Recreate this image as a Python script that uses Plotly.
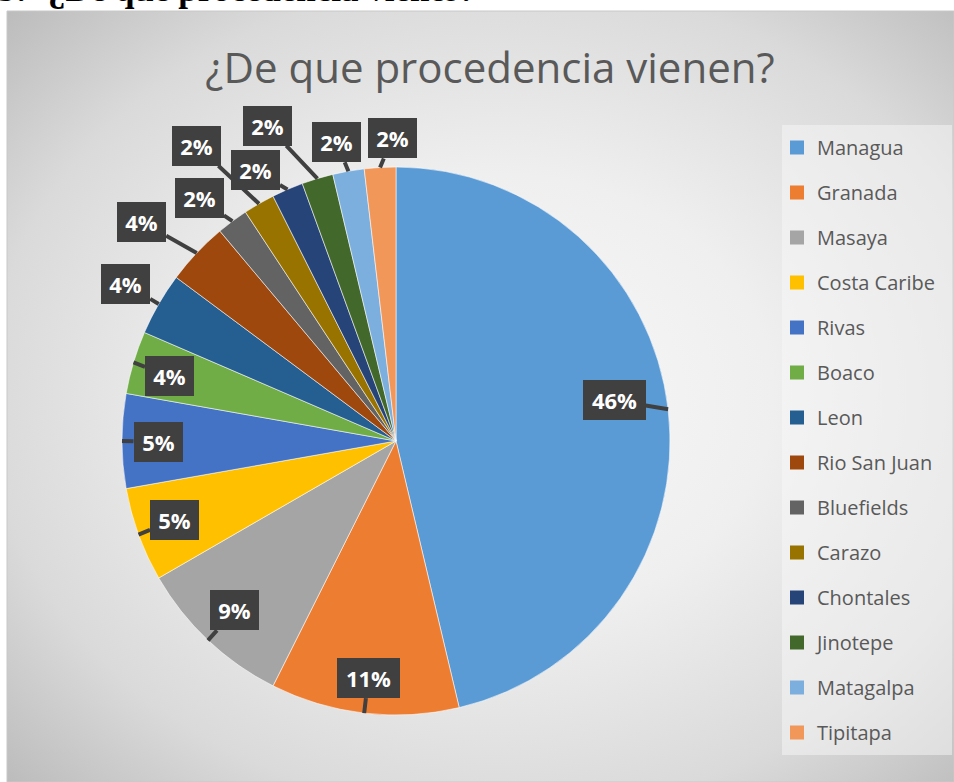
import math
import base64
import plotly.graph_objects as go

# ---------------- data ----------------
categories = ["Managua", "Granada", "Masaya", "Costa Caribe", "Rivas", "Boaco",
              "Leon", "Rio San Juan", "Bluefields", "Carazo", "Chontales",
              "Jinotepe", "Matagalpa", "Tipitapa"]
counts = [25, 6, 5, 3, 3, 2, 2, 2, 1, 1, 1, 1, 1, 1]
pct_labels = ["46%", "11%", "9%", "5%", "5%", "4%", "4%", "4%",
              "2%", "2%", "2%", "2%", "2%", "2%"]
colors = ["#5B9BD5", "#ED7D31", "#A5A5A5", "#FFC000", "#4472C4", "#70AD47",
          "#255E91", "#9E480E", "#636363", "#997300", "#264478", "#43682B",
          "#7CAFDD", "#F1975A"]

# label box offsets (px) from the slice edge point
label_offsets = [(-54, -9), (4, -35), (27, -30), (36, -15), (36, 1), (36, 14),
                 (-33, -20), (-55, -31), (-33, -23), (-62, -58), (-32, -19),
                 (-50, -53), (-12, -29), (12, -29)]

W, H = 954, 782
CX, CY, R = 396, 441, 274          # pie centre / radius in px

fig = go.Figure()

fig.add_trace(go.Pie(
    labels=categories, values=counts, sort=False, direction="clockwise",
    rotation=0, textinfo="none", showlegend=False,
    marker=dict(colors=colors, line=dict(color="rgba(255,255,255,0.55)", width=1)),
    domain=dict(x=[(CX - R) / W, (CX + R) / W], y=[1 - (CY + R) / H, 1 - (CY - R) / H]),
    hovertemplate="%{label}: %{percent}<extra></extra>",
))

# legend entries
for cat, col in zip(categories, colors):
    fig.add_trace(go.Scatter(
        x=[None], y=[None], mode="markers", name=cat, legendgroup=cat,
        marker=dict(symbol="square", size=14, color=col), showlegend=True,
    ))

# data label callouts
total = sum(counts)
cum = 0
annotations = []
for v, txt, (dx, dy) in zip(counts, pct_labels, label_offsets):
    mid = (cum + v / 2) / total
    cum += v
    th = 2 * math.pi * mid
    px = CX + R * math.sin(th)
    py = CY - R * math.cos(th)
    annotations.append(dict(
        x=px / W, y=1 - py / H, xref="paper", yref="paper",
        text="<b>%s</b>" % txt, showarrow=True, arrowhead=0, arrowwidth=4,
        arrowcolor="#404040", ax=dx, ay=dy, standoff=0,
        width=37 if len(txt) == 2 else 51, height=28,
        font=dict(family="Open Sans", size=22, color="white"),
        bgcolor="#404040", bordercolor="#404040", borderwidth=0, borderpad=6,
    ))

# cut-off text on top of page
annotations.append(dict(
    x=-4 / W, y=1 - 11 / H, xref="paper", yref="paper", xanchor="left", yanchor="bottom",
    text="<b>3:</b>", showarrow=False,
    font=dict(family="Liberation Serif", size=35, color="black"),
))
annotations.append(dict(
    x=46 / W, y=1 - 11 / H, xref="paper", yref="paper", xanchor="left", yanchor="bottom",
    text="<b>¿De que procedencia vienes?</b>", showarrow=False,
    font=dict(family="Liberation Serif", size=35, color="black"),
))

# background gradient of the chart area
BX0, BY0, BX1, BY1 = 7, 11, 954, 782
svg = ('<svg xmlns="http://www.w3.org/2000/svg" width="947" height="771" '
       'viewBox="0 0 947 771" preserveAspectRatio="none"><defs>'
       '<radialGradient id="g" cx="52%" cy="50%" r="72%">'
       '<stop offset="0" stop-color="#f8f8f8"/>'
       '<stop offset="0.4" stop-color="#efefef"/>'
       '<stop offset="0.75" stop-color="#dadada"/>'
       '<stop offset="1" stop-color="#bcbcbc"/>'
       '</radialGradient></defs>'
       '<rect width="947" height="771" fill="url(#g)"/></svg>')
src = "data:image/svg+xml;base64," + base64.b64encode(svg.encode()).decode()

fig.update_layout(
    width=W, height=H,
    margin=dict(l=0, r=0, t=0, b=0),
    paper_bgcolor="white", plot_bgcolor="rgba(0,0,0,0)",
    xaxis=dict(visible=False), yaxis=dict(visible=False),
    images=[dict(source=src, xref="paper", yref="paper", x=BX0 / W, y=1 - BY0 / H,
                 sizex=(BX1 - BX0) / W, sizey=(BY1 - BY0) / H, sizing="stretch",
                 xanchor="left", yanchor="top", layer="below")],
    shapes=[
        dict(type="rect", xref="paper", yref="paper", x0=BX0 / W, x1=1.0,
             y0=0, y1=1 - BY0 / H, line=dict(color="#c8c8c8", width=1),
             fillcolor="rgba(0,0,0,0)", layer="below"),
        dict(type="rect", xref="paper", yref="paper", x0=782 / W, x1=952 / W,
             y0=1 - 755 / H, y1=1 - 125 / H, line=dict(width=0),
             fillcolor="rgba(248,248,248,0.5)", layer="below"),
    ],
    title=dict(text="¿De que procedencia vienen?", x=490 / W, y=1 - 68 / H,
               xanchor="center", yanchor="middle",
               font=dict(family="Open Sans", size=42, color="#595959")),
    legend=dict(x=777 / W, y=1 - 128 / H, xanchor="left", yanchor="top",
                bgcolor="rgba(0,0,0,0)", tracegroupgap=16,
                font=dict(family="Open Sans", size=20, color="#595959")),
    annotations=annotations,
    showlegend=True,
)

fig.write_html("out.html", config={"displayModeBar": False},
               post_script="document.body.style.margin='0';document.body.style.overflow='hidden';")
